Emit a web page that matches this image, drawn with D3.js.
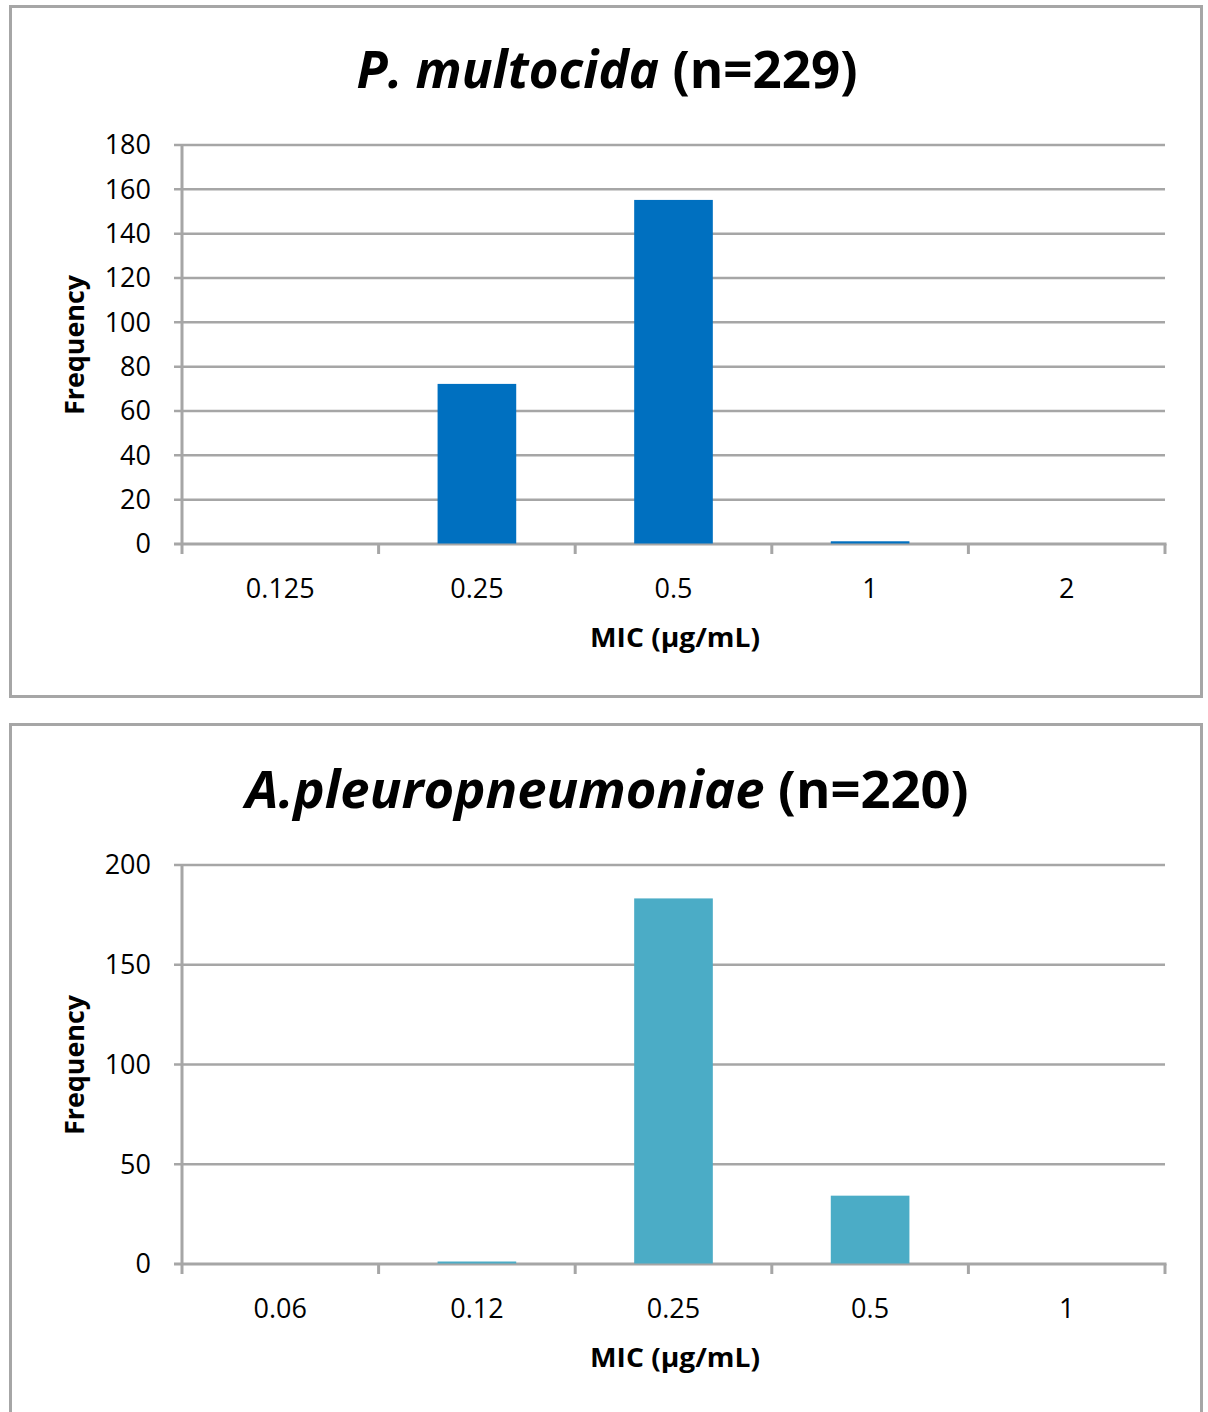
<!DOCTYPE html>
<html>
<head>
<meta charset="utf-8">
<script src="https://cdn.jsdelivr.net/npm/d3@7"></script>
<style>
  html, body { margin: 0; padding: 0; background: #fff; }
  svg { display: block; }
  text { font-family: "Open Sans", "Noto Sans", sans-serif; fill: #000; }
</style>
</head>
<body>
<svg id="chart" width="1208" height="1412"></svg>
<script>
// ---- Data ----
const categories1 = ["0.125", "0.25", "0.5", "1", "2"];
const values1 = [0, 72, 155, 1, 0];
const yTicks1 = [0, 20, 40, 60, 80, 100, 120, 140, 160, 180];
const title1Italic = "P. multocida";
const title1Rest = " (n=229)";

const categories2 = ["0.06", "0.12", "0.25", "0.5", "1"];
const values2 = [0, 1, 183, 34, 0];
const yTicks2 = [0, 50, 100, 150, 200];
const title2Italic = "A.pleuropneumoniae";
const title2Rest = " (n=220)";

const xAxisTitle = "MIC (µg/mL)";
const yAxisTitle = "Frequency";

const svg = d3.select("#chart");
const gridColor = "#a6a6a6";

function panel(cfg) {
  const g = svg.append("g").attr("transform", `translate(0,${cfg.offsetY})`);
  // frame
  g.append("rect")
    .attr("x", 10.5).attr("y", 6.5 + cfg.frameDy)
    .attr("width", 1191).attr("height", cfg.frameH)
    .attr("fill", "#fff").attr("stroke", gridColor).attr("stroke-width", 3);

  const left = 182, right = 1165, top = 145, bottom = 544;
  const x = d3.scaleBand().domain(cfg.categories).range([left, right]).paddingInner(0).paddingOuter(0);
  const y = d3.scaleLinear().domain([0, cfg.yMax]).range([bottom, top]);

  // gridlines
  g.append("g").selectAll("line").data(cfg.yTicks.filter(d => d > 0)).join("line")
    .attr("x1", left - 8).attr("x2", right)
    .attr("y1", d => y(d)).attr("y2", d => y(d))
    .attr("stroke", gridColor).attr("stroke-width", 2.5);

  // y axis line and ticks
  g.append("line").attr("x1", left).attr("x2", left).attr("y1", top).attr("y2", bottom + 1)
    .attr("stroke", gridColor).attr("stroke-width", 3);

  // x axis line
  g.append("line").attr("x1", left - 8).attr("x2", right + 1.5).attr("y1", bottom).attr("y2", bottom)
    .attr("stroke", gridColor).attr("stroke-width", 3);
  // x ticks at band boundaries
  const bounds = cfg.categories.map(c => x(c)).concat([right]);
  g.append("g").selectAll("line").data(bounds).join("line")
    .attr("x1", d => d).attr("x2", d => d)
    .attr("y1", bottom).attr("y2", bottom + 10)
    .attr("stroke", gridColor).attr("stroke-width", 3);

  // bars (drawn above the axis line)
  const bw = x.bandwidth() / 2.5;
  g.append("g").selectAll("rect").data(cfg.values.map((v, i) => ({c: cfg.categories[i], v}))).join("rect")
    .attr("x", d => x(d.c) + (x.bandwidth() - bw) / 2)
    .attr("width", bw)
    .attr("y", d => y(d.v) - 0.5)
    .attr("height", d => d.v > 0 ? (y(0) - y(d.v)) : 0)
    .attr("fill", cfg.color);

  // y tick labels
  g.append("g").selectAll("text").data(cfg.yTicks).join("text")
    .attr("x", 151).attr("y", d => y(d))
    .attr("dy", "0.35em")
    .attr("text-anchor", "end")
    .attr("font-size", 27)
    .text(d => d);

  // x tick labels
  g.append("g").selectAll("text").data(cfg.categories).join("text")
    .attr("x", d => x(d) + x.bandwidth() / 2)
    .attr("y", 598)
    .attr("text-anchor", "middle")
    .attr("font-size", 27)
    .text(d => d);

  // x axis title
  g.append("text")
    .attr("x", 675).attr("y", 647)
    .attr("text-anchor", "middle")
    .attr("font-size", 26).attr("font-weight", "bold")
    .attr("textLength", 170).attr("lengthAdjust", "spacingAndGlyphs")
    .text(xAxisTitle);

  // y axis title
  g.append("text")
    .attr("transform", `translate(84,${345}) rotate(-90)`)
    .attr("text-anchor", "middle")
    .attr("font-size", 26).attr("font-weight", "bold")
    .attr("textLength", 140).attr("lengthAdjust", "spacingAndGlyphs")
    .text(yAxisTitle);

  // title
  const t = g.append("text")
    .attr("x", cfg.titleCx).attr("y", 88)
    .attr("text-anchor", "middle")
    .attr("font-size", 52).attr("font-weight", "bold");
  t.append("tspan").attr("font-style", "italic").text(cfg.titleItalic);
  t.append("tspan").text(cfg.titleRest);
  t.attr("textLength", cfg.titleW).attr("lengthAdjust", "spacingAndGlyphs");
}

panel({offsetY: 0, frameDy: 0, frameH: 690, categories: categories1, values: values1, yTicks: yTicks1, yMax: 180,
       color: "#0070C0", titleItalic: title1Italic, titleRest: title1Rest, titleCx: 607, titleW: 501});
panel({offsetY: 720, frameDy: -2, frameH: 720, categories: categories2, values: values2, yTicks: yTicks2, yMax: 200,
       color: "#4BACC6", titleItalic: title2Italic, titleRest: title2Rest, titleCx: 607, titleW: 723});
</script>
</body>
</html>
